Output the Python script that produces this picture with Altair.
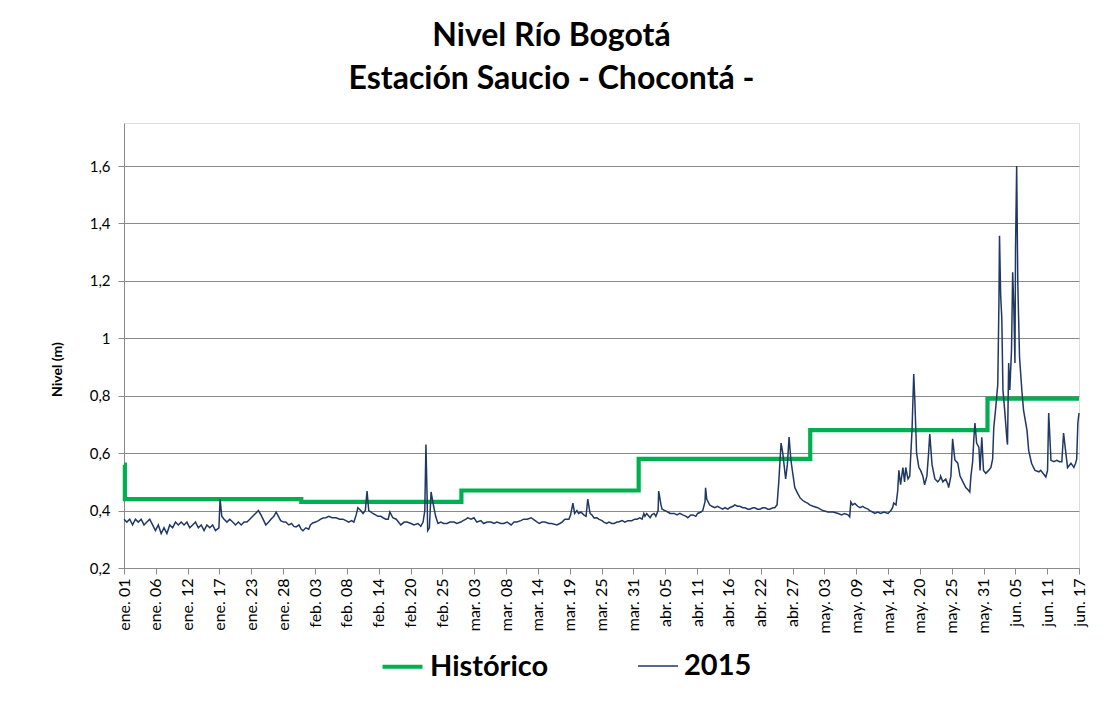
import json
import altair as alt
import pandas as pd

titulo = ["Nivel Río Bogotá", "Estación Saucio - Chocontá -"]
eje_y_titulo = "Nivel (m)"
series = ["Histórico", "2015"]
colores = ["#00B050", "#1F3864"]

tick_labels = [
    "ene. 01", "ene. 06", "ene. 12", "ene. 17", "ene. 23", "ene. 28",
    "feb. 03", "feb. 08", "feb. 14", "feb. 20", "feb. 25",
    "mar. 03", "mar. 08", "mar. 14", "mar. 19", "mar. 25", "mar. 31",
    "abr. 05", "abr. 11", "abr. 16", "abr. 22", "abr. 27",
    "may. 03", "may. 09", "may. 14", "may. 20", "may. 25", "may. 31",
    "jun. 05", "jun. 11", "jun. 17",
]
total_dias = 167  # ene. 01 -> jun. 17

# Histórico (step) : days since Jan 1 and level (m)
hist_dias = [0, 0.15, 31, 59, 90, 120, 151, 167]
hist_nivel = [0.56, 0.44, 0.43, 0.47, 0.58, 0.68, 0.79, 0.79]

# 2015 series: days since Jan 1 and level (m)
dias_2015 = [
    0, 0.5, 1, 1.5, 2, 2.5, 3, 3.5, 4, 4.5, 5, 5.5, 6, 6.5, 7, 7.5, 8, 8.5, 9, 9.5,
    10, 10.5, 11, 11.5, 12, 12.5, 13, 13.5, 14, 14.5, 15, 15.5, 16, 16.6, 16.8, 17.1,
    17.5, 18, 18.5, 19, 19.5, 20, 20.5, 21, 21.5, 22, 22.5, 23, 23.5,
    23.95, 24.8, 25.3, 25.7, 26.2, 26.6, 27.0, 27.4, 27.9, 28.3, 28.8, 29.3, 29.7,
    30.1, 30.6, 31.0, 31.3, 31.8, 32.3, 32.6, 33.0, 33.5, 34.0, 34.4, 34.8, 35.3,
    35.8, 36.4, 37.1, 37.7, 38.3, 38.8, 39.3, 39.8, 40.2, 40.6, 40.9, 41.4, 41.8,
    42.2, 42.5, 42.8, 43.2, 43.5, 44.0, 44.4, 44.9, 45.3, 45.8, 46.2, 46.5, 47.0,
    47.6, 48.4, 49.0, 49.5, 50.2, 50.7, 51.4, 51.9, 52.3, 52.6, 52.8, 53.0, 53.1,
    53.4, 53.7, 54.0, 54.5, 54.9, 55.4, 55.9, 56.5, 57.0, 57.7, 58.2, 58.9, 59.3,
    59.8, 60.1, 60.7, 61.2, 61.7, 62.4, 62.9, 63.5, 64.2, 64.7, 65.2, 65.9, 66.4,
    67.0, 67.7, 68.2, 68.7, 69.4, 69.9, 70.5, 71.2, 71.9, 72.6, 73.1, 73.6, 74.3,
    74.8, 75.7, 76.2, 76.6, 77.1, 77.8, 78.1, 78.5, 78.8, 79.2, 79.5, 79.9, 80.4,
    80.8, 81.1, 81.5, 81.8, 82.2, 82.7, 83.0, 83.6, 83.9, 84.4, 84.8, 85.3, 85.7,
    86.2, 86.5, 87.1, 87.6, 88.1, 88.8, 89.3, 89.7, 90.2, 90.6, 90.9, 91.1, 91.4,
    92.0, 92.3, 92.7, 93.0, 93.4, 93.5, 93.9, 94.1, 94.6, 95.1, 95.5, 96.2, 96.7,
    97.2, 97.7, 98.3, 98.6, 99.1, 99.5, 100.0, 100.3, 100.9, 101.2, 101.6, 101.7,
    101.9, 102.4, 102.8, 103.3, 103.8, 104.2, 104.7, 105.1, 105.6, 105.9, 106.5,
    106.8, 107.3, 107.7, 108.2, 108.6, 109.1, 109.4, 110.0, 110.3, 110.8, 111.2,
    111.7, 112.1, 112.6, 112.9, 113.5, 113.8, 114.2, 114.5, 114.9, 115.2, 115.7,
    116.0, 116.3, 116.6, 116.8, 117.3, 117.8, 118.2, 118.7, 119.1, 119.6, 119.9,
    120.5, 121.3, 122.2, 123.1, 124.0, 124.9, 125.5, 126.0, 126.6, 126.9, 127.1,
    127.4, 127.8, 128.3, 128.7, 129.2, 129.5, 130.1, 130.4, 130.9, 131.3, 131.8,
    132.3, 132.9, 133.6, 134.1, 134.4, 134.6, 135.0, 135.3, 135.5, 135.8, 136.2,
    136.5, 136.7, 137.1, 137.4, 137.8, 138.1, 138.3, 138.6, 139.0, 139.3, 139.7,
    140.0, 140.4, 140.7, 140.9, 141.3, 141.8, 142.3, 142.7, 142.8, 143.2, 143.7,
    144.1, 144.2, 144.6, 144.9, 145.3, 145.8, 146.2, 146.7, 147.2, 147.7, 147.9,
    148.1, 148.4, 148.6, 148.8, 149.1, 149.5, 149.7, 150.0, 150.3, 150.7, 151.2,
    151.6, 151.9, 152.1, 152.4, 152.8, 153.0, 153.1, 153.3, 153.5, 153.7, 154.0,
    154.4, 154.5, 154.7, 154.9, 155.2, 155.4, 155.6, 155.8, 155.9, 156.1, 156.3,
    156.6, 157.0, 157.3, 157.9, 158.2, 158.7, 159.3, 160.0, 160.3, 160.7, 161.2,
    161.5, 161.7, 162.1, 162.6, 163.1, 163.6, 164.0, 164.3, 164.7, 165.0, 165.6,
    166.1, 166.4, 166.6, 166.8, 167.0,
]
nivel_2015 = [
    0.37, 0.36, 0.37, 0.35, 0.37, 0.36, 0.37, 0.35, 0.36, 0.37, 0.35, 0.33, 0.35, 0.32,
    0.34, 0.32, 0.35, 0.34, 0.36, 0.35, 0.36, 0.35, 0.36, 0.34, 0.35, 0.36, 0.34, 0.35,
    0.33, 0.35, 0.34, 0.35, 0.33, 0.34, 0.44, 0.38, 0.37, 0.36, 0.37, 0.36, 0.35, 0.36,
    0.35, 0.36, 0.36, 0.37, 0.38, 0.39, 0.40,
    0.385, 0.35, 0.36, 0.37, 0.38, 0.395, 0.38, 0.365, 0.36, 0.36, 0.35, 0.355, 0.345,
    0.343, 0.35, 0.335, 0.33, 0.34, 0.335, 0.35, 0.357, 0.36, 0.365, 0.37, 0.374, 0.375,
    0.38, 0.375, 0.375, 0.37, 0.37, 0.365, 0.36, 0.365, 0.36, 0.385, 0.41, 0.40, 0.39,
    0.40, 0.468, 0.40, 0.395, 0.39, 0.385, 0.38, 0.38, 0.375, 0.37, 0.37, 0.395, 0.375,
    0.37, 0.35, 0.36, 0.36, 0.355, 0.35, 0.355, 0.345, 0.36, 0.40, 0.63, 0.45, 0.33,
    0.34, 0.465, 0.43, 0.38, 0.355, 0.36, 0.355, 0.355, 0.36, 0.36, 0.355, 0.36, 0.365,
    0.37, 0.375, 0.37, 0.375, 0.36, 0.365, 0.355, 0.36, 0.36, 0.355, 0.36, 0.355, 0.355,
    0.36, 0.35, 0.36, 0.36, 0.365, 0.37, 0.37, 0.375, 0.365, 0.355, 0.36, 0.36, 0.355,
    0.355, 0.35, 0.355, 0.36, 0.37, 0.37, 0.385, 0.426, 0.39, 0.40, 0.39, 0.395, 0.385,
    0.38, 0.44, 0.39, 0.385, 0.374, 0.375, 0.37, 0.365, 0.36, 0.355, 0.36, 0.355, 0.355,
    0.36, 0.36, 0.365, 0.36, 0.365, 0.365, 0.37, 0.37, 0.375, 0.37, 0.39, 0.38, 0.39,
    0.375, 0.385, 0.39, 0.38, 0.40, 0.468, 0.42, 0.405, 0.40, 0.395, 0.39, 0.39, 0.385,
    0.39, 0.385, 0.38, 0.375, 0.385, 0.385, 0.38, 0.39, 0.395, 0.40, 0.43, 0.479,
    0.44, 0.42, 0.415, 0.41, 0.415, 0.41, 0.405, 0.41, 0.405, 0.41, 0.415,
    0.42, 0.415, 0.415, 0.41, 0.41, 0.405, 0.405, 0.41, 0.41, 0.405, 0.405,
    0.41, 0.41, 0.405, 0.405, 0.41, 0.41, 0.42, 0.50, 0.635, 0.60, 0.51,
    0.56, 0.656, 0.58, 0.55, 0.48, 0.46, 0.445, 0.435, 0.43, 0.425, 0.42,
    0.415, 0.41, 0.40, 0.395, 0.395, 0.39, 0.385, 0.39, 0.385, 0.378, 0.43,
    0.42, 0.425, 0.415, 0.41, 0.415, 0.41, 0.405, 0.40, 0.395, 0.39, 0.395,
    0.39, 0.395, 0.39, 0.40, 0.41, 0.426, 0.42, 0.47, 0.54, 0.49, 0.55,
    0.50, 0.55, 0.51, 0.52, 0.68, 0.876, 0.78, 0.60, 0.55, 0.54, 0.52,
    0.49, 0.52, 0.60, 0.667, 0.56, 0.51, 0.50, 0.51, 0.52, 0.50, 0.51,
    0.49, 0.48, 0.52, 0.65, 0.576, 0.565, 0.52, 0.50, 0.48, 0.47, 0.465,
    0.52, 0.57, 0.646, 0.705, 0.635, 0.62, 0.54, 0.655, 0.54, 0.53, 0.54,
    0.55, 0.58, 0.69, 0.75, 0.84, 1.13, 1.357, 1.15, 1.07, 0.82, 0.75,
    0.646, 0.63, 0.914, 0.82, 0.96, 1.23, 1.11, 0.914, 1.31, 1.60, 1.19,
    0.935, 0.82, 0.75, 0.68, 0.61, 0.565, 0.54, 0.535, 0.54, 0.53, 0.517,
    0.54, 0.74, 0.575, 0.57, 0.575, 0.57, 0.57, 0.67, 0.60, 0.55, 0.565,
    0.55, 0.565, 0.58, 0.705, 0.74,
]

assert len(dias_2015) == len(nivel_2015), (len(dias_2015), len(nivel_2015))

df_hist = pd.DataFrame({"dia": hist_dias, "nivel": hist_nivel, "serie": series[0]})
df_2015 = pd.DataFrame({"dia": dias_2015, "nivel": nivel_2015, "serie": series[1]})

tick_pos = [i * total_dias / (len(tick_labels) - 1) for i in range(len(tick_labels))]
label_expr = (
    json.dumps(tick_labels, ensure_ascii=False)
    + f"[round(datum.value * {len(tick_labels) - 1} / {total_dias})]"
)

FONT = "Lato"
GRID = "#8a8a8a"

x_enc = alt.X(
    "dia:Q",
    scale=alt.Scale(domain=[0, total_dias], nice=False, zero=False),
    axis=alt.Axis(
        values=tick_pos,
        labelExpr=label_expr,
        labelAngle=270,
        labelAlign="right",
        labelBaseline="middle",
        labelFontSize=16,
        labelFont=FONT,
        labelColor="#000000",
        labelPadding=4,
        tickSize=6,
        tickColor=GRID,
        domainColor=GRID,
        grid=False,
        title=None,
        labelOverlap=False,
    ),
)
y_enc = alt.Y(
    "nivel:Q",
    scale=alt.Scale(domain=[0.2, 1.75], nice=False, zero=False),
    axis=alt.Axis(
        values=[0.2, 0.4, 0.6, 0.8, 1.0, 1.2, 1.4, 1.6],
        labelExpr="replace(format(datum.value, '.1~f'), '.', ',')",
        labelFontSize=15,
        labelFont=FONT,
        labelColor="#000000",
        labelPadding=8,
        tickSize=6,
        tickColor=GRID,
        domainColor=GRID,
        gridColor=GRID,
        gridWidth=1.2,
        title=eje_y_titulo,
        titleFont=FONT,
        titleFontSize=14,
        titleFontWeight="bold",
        titleAngle=270,
        titleX=-67,
        titleY=246,
        titleAlign="center",
        titleBaseline="middle",
    ),
)

legend = alt.Legend(
    title=None,
    orient="none",
    legendX=256,
    legendY=521,
    direction="horizontal",
    symbolType="stroke",
    symbolSize=1600,
    labelFontSize=29,
    labelFont=FONT,
    labelFontWeight="bold",
    labelColor="#000000",
    labelOffset=5,
    columnPadding=86,
)
color_enc = alt.Color(
    "serie:N",
    scale=alt.Scale(domain=series, range=colores),
    legend=legend,
)
width_enc = alt.StrokeWidth(
    "serie:N",
    scale=alt.Scale(domain=series, range=[4.2, 1.5]),
    legend=legend,
)

hist = alt.Chart(df_hist).mark_line(interpolate="step-after").encode(
    x=x_enc, y=y_enc, color=color_enc, strokeWidth=width_enc
)
linea = alt.Chart(df_2015).mark_line(interpolate="linear").encode(
    x=x_enc, y=y_enc, color=color_enc, strokeWidth=width_enc
)

chart = (
    alt.layer(hist, linea)
    .properties(
        width=955,
        height=445,
        autosize=alt.AutoSizeParams(type="none"),
        padding={"left": 116, "top": 115, "right": 28, "bottom": 130},
        title=alt.TitleParams(
            text=titulo,
            font=FONT,
            fontSize=32,
            fontWeight="bold",
            color="#000000",
            lineHeight=43,
            anchor="middle",
            dx=-50,
            offset=27,
        ),
    )
    .configure_view(stroke=None)
    .configure(background="#ffffff")
)

chart.save("out.html", embed_options={"renderer": "svg", "actions": False})
